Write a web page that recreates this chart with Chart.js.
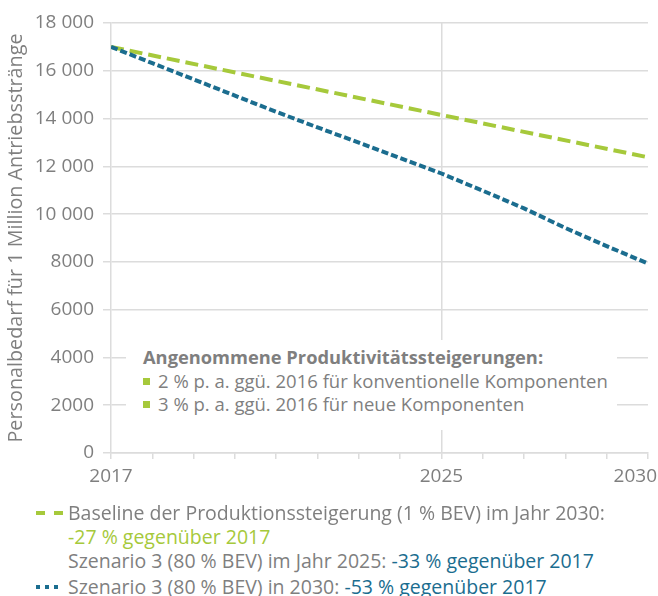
<!DOCTYPE html>
<html lang="de">
<head>
<meta charset="utf-8">
<script src="https://cdn.jsdelivr.net/npm/chart.js@4"></script>
<style>
  html, body { margin: 0; padding: 0; background: #fff; }
  #wrap { position: relative; width: 658px; height: 596px; overflow: hidden; font-family: "Open Sans", sans-serif; color: #7f7f7f; }
  #chart { position: absolute; left: 0; top: 0; }
  #annahmen { position: absolute; left: 126px; top: 340px; width: 491px; height: 90px; background: #fff;
              padding: 5px 0 0 17px; box-sizing: border-box; font-size: 18.5px; line-height: 23.5px; white-space: nowrap; }
  #annahmen .head { font-weight: bold; font-size: 18.3px; }
  #annahmen .sq { display: inline-block; width: 7px; height: 7px; background: #a6c93b; margin-right: 8px; vertical-align: 3px; }
  #legende { position: absolute; left: 68px; top: 501px; font-size: 19.5px; line-height: 24px; white-space: nowrap; }
  .mark { position: absolute; left: -32px; height: 4px; }
  .gruen { color: #a6c93b; }
  .blau { color: #1b6d8f; }
</style>
</head>
<body>
<div id="wrap">
  <canvas id="chart" width="658" height="500"></canvas>
  <div id="annahmen">
    <div class="head">Angenommene Produktivitätssteigerungen:</div>
    <div><span class="sq"></span>2 % p. a. ggü. 2016 für konventionelle Komponenten</div>
    <div><span class="sq"></span>3 % p. a. ggü. 2016 für neue Komponenten</div>
  </div>
  <div id="legende">
    <div style="position:relative">
      <span class="mark" style="top:10px;width:27px;background:linear-gradient(90deg,#a6c93b 0 9px,transparent 9px 18px,#a6c93b 18px 27px)"></span>
      Baseline der Produktionssteigerung (1 % BEV) im Jahr 2030:
    </div>
    <div class="gruen">-27 % gegenüber 2017</div>
    <div>Szenario 3 (80 % BEV) im Jahr 2025: <span class="blau">-33 % gegenüber 2017</span></div>
    <div style="position:relative;margin-top:2px">
      <span class="mark" style="top:10px;width:22px;background:linear-gradient(90deg,#1b6d8f 0 4px,transparent 4px 9px,#1b6d8f 9px 13px,transparent 13px 18px,#1b6d8f 18px 22px)"></span>
      Szenario 3 (80 % BEV) in 2030: <span class="blau">-53 % gegenüber 2017</span>
    </div>
  </div>
</div>
<script>
// Werte
const baselineJahre = [2017, 2025, 2030];
const baselineWerte = [17000, 14150, 12380];
const szenarioJahre = [2017, 2018, 2019, 2020, 2021, 2022, 2023, 2024, 2025, 2026, 2027, 2028, 2029, 2030];
const szenarioWerte = [17000, 16320, 15640, 14960, 14280, 13630, 12990, 12350, 11700, 10980, 10240, 9420, 8660, 7930];
const xBeschriftung = [2017, 2025, 2030];
const xGitter = [2025];

const grau = '#7f7f7f';
const gitterFarbe = '#dcdcdc';

function punkte(xs, ys) {
  return xs.map((x, i) => ({ x: x, y: ys[i] }));
}

// x-Achsenbeschriftung selbst zeichnen, damit 2030 nicht abgeschnitten wird
const xLabels = {
  id: 'xLabels',
  afterDraw(chart) {
    const ctx = chart.ctx;
    const xs = chart.scales.x;
    ctx.save();
    ctx.font = '19px "Open Sans"';
    ctx.fillStyle = grau;
    ctx.textAlign = 'center';
    ctx.textBaseline = 'middle';
    xBeschriftung.forEach(v => {
      const txt = String(v);
      const w = ctx.measureText(txt).width;
      let px = xs.getPixelForValue(v);
      px = Math.min(px, chart.width - 1 - w / 2);
      ctx.fillText(txt, px, xs.top + 24);
    });
    ctx.restore();
  }
};

const ctx = document.getElementById('chart').getContext('2d');
new Chart(ctx, {
  type: 'line',
  data: {
    datasets: [
      {
        label: 'Szenario 3 (80 % BEV)',
        data: punkte(szenarioJahre, szenarioWerte),
        borderColor: '#1b6d8f',
        borderWidth: 4,
        borderDash: [7, 3],
        pointRadius: 0,
        tension: 0,
        fill: false
      },
      {
        label: 'Baseline',
        data: punkte(baselineJahre, baselineWerte),
        borderColor: '#a6c93b',
        borderWidth: 4,
        borderDash: [13, 6],
        pointRadius: 0,
        tension: 0,
        fill: false
      }
    ]
  },
  options: {
    responsive: false,
    animation: false,
    devicePixelRatio: 1,
    layout: { padding: { top: 23, right: 10, left: 0, bottom: 0 } },
    plugins: {
      legend: { display: false },
      tooltip: { enabled: false }
    },
    scales: {
      x: {
        type: 'linear',
        min: 2017,
        max: 2030,
        ticks: { stepSize: 1, display: false },
        grid: {
          color: c => xGitter.includes(c.tick.value) ? gitterFarbe : 'rgba(0,0,0,0)',
          tickColor: gitterFarbe,
          tickLength: 6,
          lineWidth: 1.5
        },
        border: { color: gitterFarbe, width: 1.5 },
        afterFit(scale) { scale.height = 47; scale.paddingLeft = 0; scale.paddingRight = 0; }
      },
      y: {
        min: 0,
        max: 18000,
        ticks: {
          stepSize: 2000,
          color: grau,
          padding: 9,
          font: { family: 'Open Sans', size: 19 },
          callback: v => v >= 10000 ? String(v).replace(/(\d{3})$/, ' $1') : String(v)
        },
        grid: { color: gitterFarbe, tickLength: 8, lineWidth: 1.5 },
        border: { color: gitterFarbe, width: 1.5 },
        title: {
          display: true,
          text: 'Personalbedarf für 1 Million Antriebsstränge',
          color: grau,
          font: { family: 'Open Sans', size: 19.8 },
          padding: { top: 4, bottom: 0 }
        },
        afterFit(scale) { scale.width = 111; }
      }
    }
  },
  plugins: [xLabels]
});
</script>
</body>
</html>
